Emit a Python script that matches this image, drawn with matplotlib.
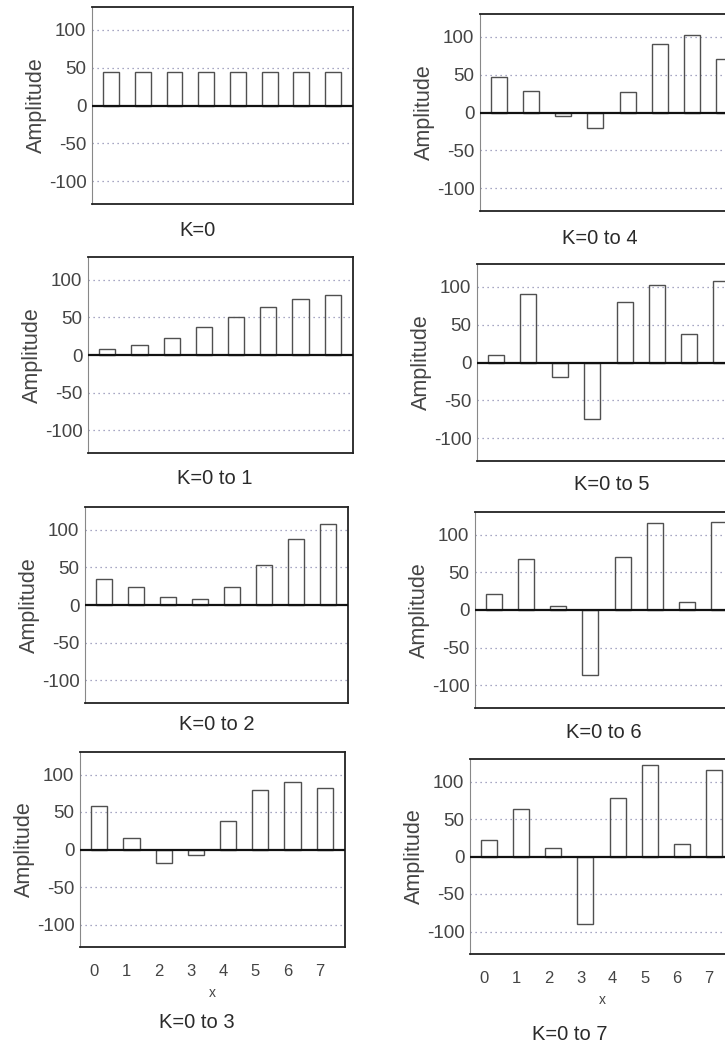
import matplotlib
matplotlib.use("Agg")
import matplotlib.pyplot as plt
import numpy as np

plt.rcParams['font.family'] = ['Liberation Sans', 'DejaVu Sans']

x = [0, 1, 2, 3, 4, 5, 6, 7]
k0 = [44, 44, 44, 44, 44, 44, 44, 44]
k1 = [8, 13, 23, 37, 50, 64, 74, 80]
k2 = [35, 24, 11, 8, 24, 53, 87, 108]
k3 = [58, 16, -18, -7, 38, 80, 90, 82]
k4 = [47, 29, -4, -20, 27, 91, 102, 71]
k5 = [10, 91, -19, -74, 80, 102, 38, 107]
k6 = [21, 67, 5, -86, 70, 115, 11, 117]
k7 = [22, 64, 12, -90, 78, 122, 17, 115]
titles = ["K=0", "K=0 to 1", "K=0 to 2", "K=0 to 3",
          "K=0 to 4", "K=0 to 5", "K=0 to 6", "K=0 to 7"]
yticks = [-100, -50, 0, 50, 100]
series = [k0, k1, k2, k3, k4, k5, k6, k7]

W, H = 725, 1049
fig = plt.figure(figsize=(W / 100, H / 100), dpi=100)

# (left, top, right, bottom) in pixels
boxes = [
    (92, 7, 353, 204), (88, 257, 353, 453), (85, 507, 348, 703), (80, 752, 345, 947),
    (480, 14, 744, 211), (477, 264, 741, 461), (475, 512, 739, 708), (470, 759, 734, 954),
]
# title label centers (x, y) in pixels
tpos = [(197, 230), (215, 478), (217, 725), (197, 1022),
        (600, 238), (612, 485), (604, 732), (570, 1035)]
txtc = '#2a2a2a'

for i, (vals, box) in enumerate(zip(series, boxes)):
    l, t, r, b = box
    ax = fig.add_axes([l / W, 1 - b / H, (r - l) / W, (b - t) / H])
    ax.bar(np.array(x) + 0.15, vals, width=0.5, facecolor='none',
           edgecolor='#505050', linewidth=1.0, zorder=2)
    ax.axhline(0, color='#111111', linewidth=1.6, zorder=3)
    ax.set_ylim(-130, 130)
    ax.set_xlim(-0.45, 7.78)
    ax.set_yticks(yticks)
    ax.set_yticklabels([str(v) for v in yticks], fontsize=13.5, color='#444444')
    for v in [-100, -50, 50, 100]:
        ax.axhline(v, color='#8a8ab0', linestyle=(0, (1, 3)), linewidth=0.9, zorder=1)
    ax.tick_params(axis='y', length=0, pad=4)
    for s in ax.spines.values():
        s.set_color('#222222')
        s.set_linewidth(1.3)
    ax.spines['left'].set_linewidth(0.8)
    ax.spines['left'].set_color('#888888')
    ax.set_ylabel("Amplitude", fontsize=15.5, color='#444444', labelpad=1)
    if i in (3, 7):
        ax.set_xticks(x)
        ax.set_xticklabels([str(v) for v in x], fontsize=12, color='#444444')
        ax.tick_params(axis='x', length=0, pad=12)
        ax.set_xlabel("x", fontsize=10, color='#444444', labelpad=5)
    else:
        ax.set_xticks([])
    tx, ty = tpos[i]
    fig.text(tx / W, 1 - ty / H, titles[i], ha='center', va='center',
             fontsize=14.5, color=txtc)

fig.savefig("out.png", dpi=100, facecolor='white')
